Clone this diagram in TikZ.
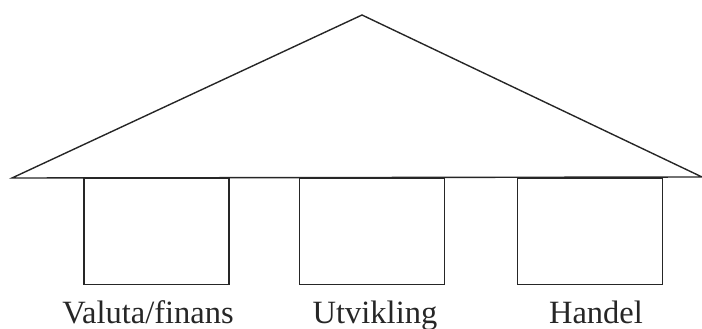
\documentclass[tikz,border=0pt]{standalone}
\usepackage{fontspec}
\setmainfont{Liberation Serif}
\begin{document}
\begin{tikzpicture}[x=1pt,y=-1pt,
  line/.style={line width=1.4pt, draw=black!85},
  pillar/.style={line, draw, rectangle, minimum width=145pt, minimum height=106pt, inner sep=0pt, anchor=north},
  label/.style={font=\fontsize{32.5}{32.5}\selectfont, text=black!85, anchor=base, inner sep=0pt}]
\useasboundingbox (0,0) rectangle (702,329);
\coordinate (apex) at (362,15);
\coordinate (left) at (12,178);
\coordinate (right) at (702,177);
\draw[line, line join=miter] (left) -- (apex) -- (right) -- cycle;
\node[pillar] (p1) at (156.5,178) {};
\node[pillar] (p2) at (372,178) {};
\node[pillar] (p3) at (590,178) {};
\node[label] (l1) at (148,323) {Valuta/finans};
\node[label] (l2) at (375,323) {Utvikling};
\node[label] (l3) at (596,323) {Handel};
\end{tikzpicture}
\end{document}
